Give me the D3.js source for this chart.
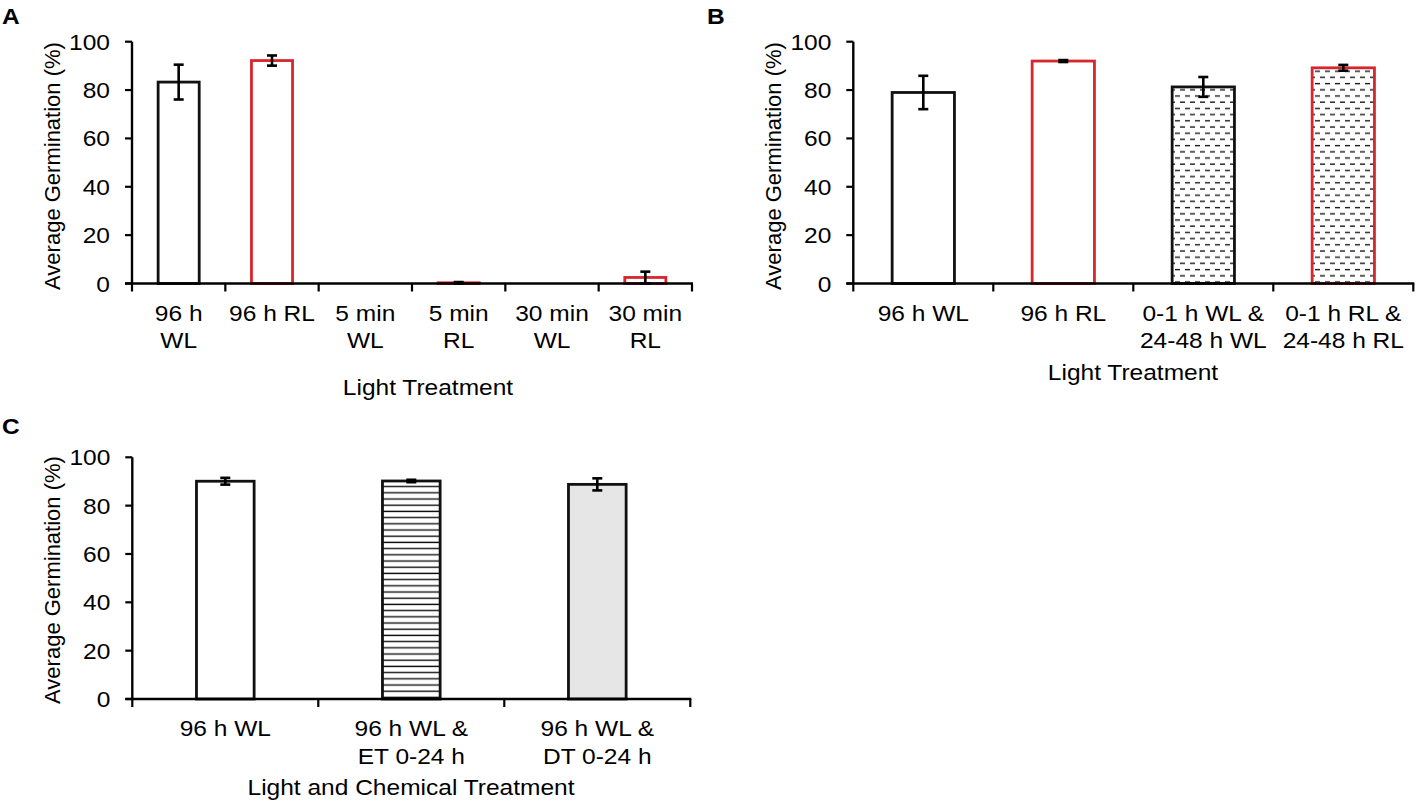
<!DOCTYPE html>
<html>
<head>
<meta charset="utf-8">
<script src="https://cdn.jsdelivr.net/npm/d3@7"></script>
<style>
  html, body { margin: 0; padding: 0; background: #fff; }
  svg { display: block; }
  text { font-family: "Liberation Sans", Arial, sans-serif; fill: #000; }
</style>
</head>
<body>
<svg id="fig" width="1416" height="802"></svg>
<script>
/* ---------------- data ---------------- */
// Panel A
const catsA   = [['96 h', 'WL'], ['96 h RL'], ['5 min', 'WL'], ['5 min', 'RL'], ['30 min', 'WL'], ['30 min', 'RL']];
const lightA  = ['WL', 'RL', 'WL', 'RL', 'WL', 'RL'];
const meanA   = [83.3, 92.2, 0, 0.3, 0, 2.5];
const errA    = [7.2, 2.1, 0, 0.3, 0, 2.4];

// Panel B
const catsB   = [['96 h WL'], ['96 h RL'], ['0-1 h WL &', '24-48 h WL'], ['0-1 h RL &', '24-48 h RL']];
const lightB  = ['WL', 'RL', 'WL', 'RL'];
const schemeB = ['continuous', 'continuous', 'split', 'split'];
const meanB   = [79.0, 92.0, 81.3, 89.2];
const errB    = [6.9, 0.4, 4.1, 1.2];

// Panel C
const catsC   = [['96 h WL'], ['96 h WL &', 'ET 0-24 h'], ['96 h WL &', 'DT 0-24 h']];
const lightC  = ['WL', 'WL', 'WL'];
const chemC   = ['none', 'ET', 'DT'];
const meanC   = [90.1, 90.2, 88.8];
const errC    = [1.4, 0.5, 2.5];

const yTicks = [0, 20, 40, 60, 80, 100];

/* ---------------- helpers ---------------- */
const STRETCH = 1.115;   // the original figure is slightly wider than tall
const FONT = 22;

const svg = d3.select('#fig');

const defs = svg.append('defs');
// dashed rows, staggered like bricks
const dash = defs.append('pattern').attr('id', 'dashes')
  .attr('patternUnits', 'userSpaceOnUse').attr('width', 10).attr('height', 12.4);
dash.append('rect').attr('width', 10).attr('height', 12.4).attr('fill', '#fff');
dash.append('line').attr('x1', 0).attr('x2', 5).attr('y1', 3).attr('y2', 3)
  .attr('stroke', '#1a1a1a').attr('stroke-width', 1.4);
dash.append('line').attr('x1', 5).attr('x2', 10).attr('y1', 9.2).attr('y2', 9.2)
  .attr('stroke', '#1a1a1a').attr('stroke-width', 1.4);
// solid horizontal lines
const hl = defs.append('pattern').attr('id', 'hlines')
  .attr('patternUnits', 'userSpaceOnUse').attr('width', 10).attr('height', 6.2);
hl.append('rect').attr('width', 10).attr('height', 6.2).attr('fill', '#fff');
hl.append('line').attr('x1', 0).attr('x2', 10).attr('y1', 3).attr('y2', 3)
  .attr('stroke', '#111').attr('stroke-width', 1.4);

const lightColor = d3.scaleOrdinal().domain(['WL', 'RL']).range(['#111', '#d7262c']);

function label(g, str, x, y, anchor = 'middle', opts = {}) {
  return g.append('text')
    .attr('transform', `translate(${x},${y}) scale(${STRETCH},1)`)
    .attr('text-anchor', anchor)
    .style('font-size', (opts.size || FONT) + 'px')
    .style('font-weight', opts.weight || 400)
    .text(str);
}

function drawPanel(p) {
  const g = svg.append('g');

  const x = d3.scaleBand()
    .domain(d3.range(p.cats.length))
    .range([p.x0, p.x1])
    .paddingInner(p.pad).paddingOuter(p.pad / 2);
  const y = d3.scaleLinear().domain([0, 100]).range([p.yBottom, p.yTop]);

  const rows = p.cats.map((c, i) => ({ i, lines: c, v: p.mean[i], e: p.err[i], light: p.light[i], fill: p.fill(i) }));

  // bars
  g.selectAll('rect.bar').data(rows.filter(d => d.v > 0)).join('rect')
    .attr('class', 'bar')
    .attr('x', d => x(d.i))
    .attr('width', x.bandwidth())
    .attr('y', d => y(d.v))
    .attr('height', d => y(0) - y(d.v))
    .attr('fill', d => d.fill)
    .attr('stroke', d => lightColor(d.light))
    .attr('stroke-width', 2.8);

  // y axis
  g.append('line')
    .attr('x1', p.x0).attr('x2', p.x0)
    .attr('y1', y(100)).attr('y2', y(0))
    .attr('stroke', '#000').attr('stroke-width', 2.4);
  g.selectAll('line.ytick').data(yTicks).join('line')
    .attr('class', 'ytick')
    .attr('x1', p.x0 - 7).attr('x2', p.x0)
    .attr('y1', d => y(d)).attr('y2', d => y(d))
    .attr('stroke', '#000').attr('stroke-width', 2.2);
  yTicks.forEach(t => label(g, t, p.x0 - 22, y(t) + 8, 'end'));

  // x axis
  g.append('line')
    .attr('x1', p.x0 - 7).attr('x2', p.x1 + 1)
    .attr('y1', y(0)).attr('y2', y(0))
    .attr('stroke', '#000').attr('stroke-width', 2.4);
  const bounds = d3.range(p.cats.length + 1).map(k => p.x0 + k * x.step());
  g.selectAll('line.xtick').data(bounds).join('line')
    .attr('class', 'xtick')
    .attr('x1', d => d).attr('x2', d => d)
    .attr('y1', y(0)).attr('y2', y(0) + 8)
    .attr('stroke', '#000').attr('stroke-width', 2.2);

  // category labels
  rows.forEach(d => {
    const cx = x(d.i) + x.bandwidth() / 2;
    d.lines.forEach((ln, k) => label(g, ln, cx, y(0) + 37 + k * 27.7));
  });

  // error bars
  const eb = rows.filter(d => d.e > 0);
  const cap = 5;
  g.selectAll('line.err').data(eb).join('line')
    .attr('x1', d => x(d.i) + x.bandwidth() / 2).attr('x2', d => x(d.i) + x.bandwidth() / 2)
    .attr('y1', d => y(d.v - d.e)).attr('y2', d => y(d.v + d.e))
    .attr('stroke', '#000').attr('stroke-width', 2.6);
  ['lo', 'hi'].forEach(side => {
    g.selectAll('line.cap-' + side).data(eb).join('line')
      .attr('x1', d => x(d.i) + x.bandwidth() / 2 - cap)
      .attr('x2', d => x(d.i) + x.bandwidth() / 2 + cap)
      .attr('y1', d => y(side === 'lo' ? d.v - d.e : d.v + d.e))
      .attr('y2', d => y(side === 'lo' ? d.v - d.e : d.v + d.e))
      .attr('stroke', '#000').attr('stroke-width', 2.6);
  });

  // axis titles
  label(g, p.xTitle, p.xTitleX, p.xTitleY);
  g.append('text')
    .attr('transform', `translate(${p.x0 - 72},${p.yTitleY}) rotate(-90)`)
    .attr('text-anchor', 'middle')
    .style('font-size', FONT + 'px')
    .text('Average Germination (%)');

  // panel letter
  label(g, p.letter, p.letterX, p.letterY, 'start', { weight: 700 });
}

drawPanel({
  letter: 'A', letterX: 2, letterY: 24,
  cats: catsA, mean: meanA, err: errA, light: lightA,
  fill: () => '#fff',
  x0: 132, x1: 692, yTop: 41.7, yBottom: 283.5, pad: 0.56,
  xTitle: 'Light Treatment', xTitleX: 428, xTitleY: 395, yTitleY: 166
});

drawPanel({
  letter: 'B', letterX: 707, letterY: 24,
  cats: catsB, mean: meanB, err: errB, light: lightB,
  fill: i => schemeB[i] === 'split' ? 'url(#dashes)' : '#fff',
  x0: 853.3, x1: 1413.3, yTop: 41.7, yBottom: 283.5, pad: 0.555,
  xTitle: 'Light Treatment', xTitleX: 1133, xTitleY: 380, yTitleY: 166
});

const chemFill = d3.scaleOrdinal().domain(['none', 'ET', 'DT']).range(['#fff', 'url(#hlines)', '#e6e6e6']);
drawPanel({
  letter: 'C', letterX: 2, letterY: 434,
  cats: catsC, mean: meanC, err: errC, light: lightC,
  fill: i => chemFill(chemC[i]),
  x0: 132.3, x1: 690.3, yTop: 457.3, yBottom: 699, pad: 0.69,
  xTitle: 'Light and Chemical Treatment', xTitleX: 411, xTitleY: 795, yTitleY: 580
});
</script>
</body>
</html>
